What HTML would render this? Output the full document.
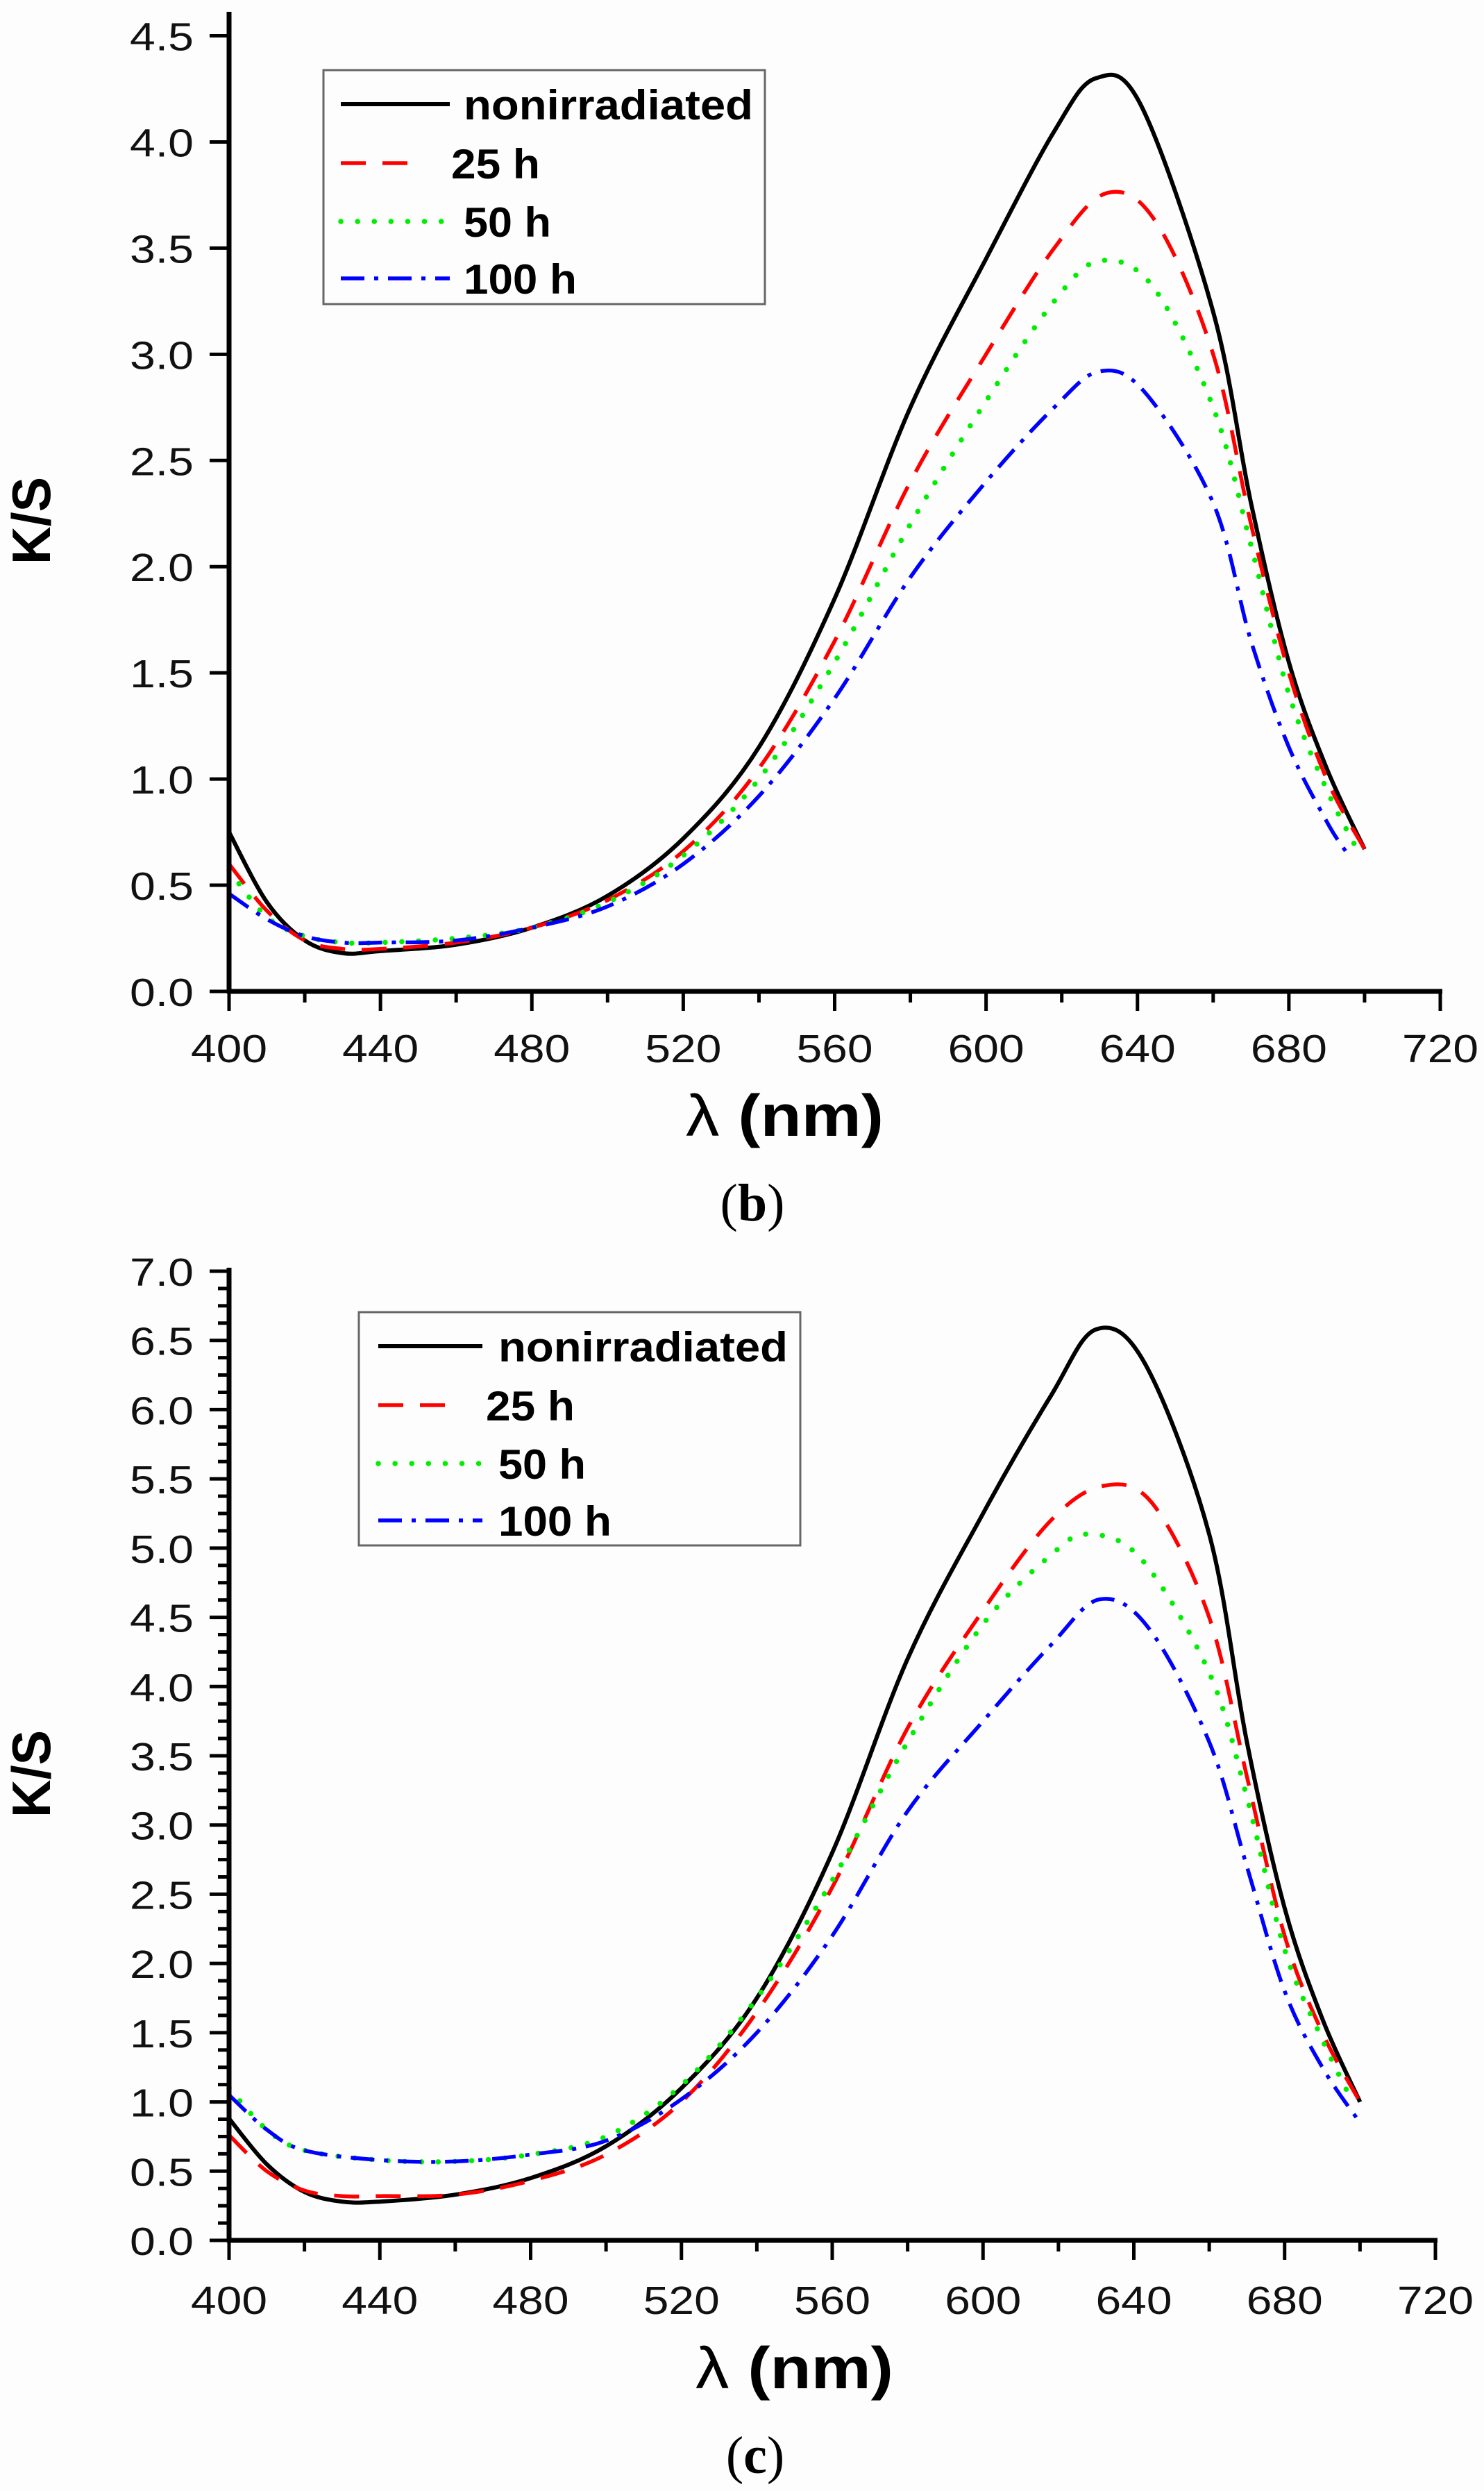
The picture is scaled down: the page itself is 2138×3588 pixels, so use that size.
<!DOCTYPE html>
<html><head><meta charset="utf-8"><style>
html,body{margin:0;padding:0;background:#fdfdfd;}
svg{display:block;}
text{font-family:"Liberation Sans",sans-serif;}
</style></head><body>
<svg id="s" width="2138" height="3588" xmlns="http://www.w3.org/2000/svg"></svg>
<script>
const S=document.getElementById('s');
let h='';
function cr(pts){
  let d='M'+pts[0][0].toFixed(1)+','+pts[0][1].toFixed(1);
  for(let i=0;i<pts.length-1;i++){
    const p0=pts[i-1]||pts[i],p1=pts[i],p2=pts[i+1],p3=pts[i+2]||p2;
    const c1=[p1[0]+(p2[0]-p0[0])/6,p1[1]+(p2[1]-p0[1])/6];
    const c2=[p2[0]-(p3[0]-p1[0])/6,p2[1]-(p3[1]-p1[1])/6];
    d+=' C'+c1.map(v=>v.toFixed(1))+' '+c2.map(v=>v.toFixed(1))+' '+p2.map(v=>v.toFixed(1));
  }
  return d;
}
const styles={
 k:'stroke="#000" stroke-width="6"',
 r:'stroke="#ff0000" stroke-width="5.5" stroke-dasharray="36 24"',
 g:'stroke="#00ee00" stroke-width="7.5" stroke-dasharray="0.1 24" stroke-linecap="round"',
 b:'stroke="#0000ff" stroke-width="5.5" stroke-dasharray="34 14 6 14"'
};
function chart(o){
  const X=nm=>o.x0+(nm-400)*(o.x1-o.x0)/320;
  const Y=v=>o.y0-v*(o.y0-o.yTop)/o.ymax;
  for(const k of ['k','r','g','b']){
    const pts=o.data[k].map(p=>[X(p[0]),Y(p[1])]);
    h+=`<path d="${cr(pts)}" fill="none" ${styles[k]}/>`;
  }
  h+=`<line x1="${o.x0}" y1="${o.axTop}" x2="${o.x0}" y2="${o.y0+3}" stroke="#000" stroke-width="7"/>`;
  h+=`<line x1="${o.x0-3}" y1="${o.y0}" x2="${o.x1+3}" y2="${o.y0}" stroke="#000" stroke-width="7"/>`;
  for(let nm=400;nm<=720;nm+=20){
    const x=X(nm),maj=(nm%40==0);
    h+=`<line x1="${x}" y1="${o.y0}" x2="${x}" y2="${o.y0+(maj?28:16)}" stroke="#000" stroke-width="5"/>`;
    if(maj) h+=`<text x="${x}" y="${o.xlab}" font-size="57" text-anchor="middle" textLength="110" lengthAdjust="spacingAndGlyphs" fill="#111">${nm}</text>`;
  }
  for(let v=0;v<=o.ymax+1e-9;v+=o.minor){
    const y=Y(v),maj=Math.abs(v*2-Math.round(v*2))<1e-6;
    h+=`<line x1="${o.x0}" y1="${y}" x2="${o.x0-(maj?28:16)}" y2="${y}" stroke="#000" stroke-width="5"/>`;
    if(maj) h+=`<text x="279" y="${y+21}" font-size="57" text-anchor="end" textLength="92" lengthAdjust="spacingAndGlyphs" fill="#111">${v.toFixed(1)}</text>`;
  }
  h+=`<text transform="translate(${o.ksx},${o.ksy}) rotate(-90)" font-size="78" font-weight="bold" text-anchor="middle" textLength="126" lengthAdjust="spacingAndGlyphs">K/S</text>`;
  h+=`<text x="${o.lx}" y="${o.ly}" font-size="84" textLength="285" lengthAdjust="spacingAndGlyphs"><tspan>λ</tspan> <tspan font-weight="bold">(nm)</tspan></text>`;
  h+=`<text x="${o.cx}" y="${o.cy}" font-size="76" text-anchor="middle" style="font-family:'Liberation Serif',serif">(<tspan font-weight="bold">${o.cap}</tspan>)</text>`;
  const L=o.leg;
  h+=`<rect x="${L.x}" y="${L.y}" width="${L.w}" height="${L.h}" fill="#fdfdfd" stroke="#666" stroke-width="3"/>`;
  const names=['nonirradiated','25 h','50 h','100 h'],ks=['k','r','g','b'],offs=[49,134,218,300];
  for(let i=0;i<4;i++){
    const y=L.y+offs[i];
    h+=`<line x1="${L.lx0}" y1="${y}" x2="${i==1?L.lx1-40:L.lx1}" y2="${y}" ${styles[ks[i]]}/>`;
    const tl=[417,128,126,163][i];
    h+=`<text x="${i==1?L.tx-18:L.tx}" y="${y+22}" font-size="60" font-weight="bold" textLength="${tl}" lengthAdjust="spacingAndGlyphs">${names[i]}</text>`;
  }
}
chart({x0:330,x1:2075,y0:1428,yTop:51.5,ymax:4.5,axTop:17,minor:0.5,xlab:1530,
 ksx:72,ksy:750,lx:988,ly:1636,cx:1084,cy:1758,cap:'b',
 leg:{x:466,y:101,w:636,h:337,lx0:491,lx1:648,tx:668},
 data:{
 k:[[400,.75],[410,.42],[420,.24],[430,.18],[440,.19],[460,.22],[480,.3],[500,.45],[520,.72],[540,1.15],[560,1.85],[580,2.75],[600,3.45],[618,4.05],[629,4.3],[641,4.17],[660,3.2],[670,2.3],[680,1.55],[690,1.05],[700,.67]],
 r:[[400,.6],[410,.38],[420,.24],[430,.2],[440,.2],[460,.23],[480,.3],[500,.43],[520,.66],[540,1.05],[560,1.65],[580,2.4],[600,3.0],[618,3.5],[632,3.76],[645,3.62],[660,3.0],[670,2.2],[680,1.5],[690,1.0],[700,.67]],
 g:[[400,.57],[410,.35],[420,.26],[430,.23],[440,.23],[460,.25],[480,.3],[500,.42],[520,.64],[540,1.0],[560,1.55],[580,2.2],[600,2.78],[618,3.25],[630,3.44],[644,3.32],[660,2.75],[670,2.1],[680,1.4],[690,.95],[698,.67]],
 b:[[400,.46],[410,.34],[420,.26],[430,.23],[440,.23],[460,.24],[480,.3],[500,.4],[520,.6],[540,.92],[560,1.38],[580,1.95],[600,2.4],[618,2.75],[630,2.92],[642,2.82],[660,2.3],[670,1.65],[680,1.15],[690,.8],[695,.66]]
 }});
chart({x0:330,x1:2068,y0:3227,yTop:1831,ymax:7.0,axTop:1826,minor:0.125,xlab:3333,
 ksx:72,ksy:2555,lx:1002,ly:3440,cx:1088,cy:3562,cap:'c',
 leg:{x:517,y:1890,w:636,h:336,lx0:545,lx1:695,tx:718},
 data:{
 k:[[400,.88],[410,.55],[420,.35],[430,.28],[440,.28],[460,.33],[480,.45],[500,.68],[520,1.1],[540,1.75],[560,2.8],[580,4.2],[600,5.25],[618,6.1],[630,6.58],[643,6.33],[660,5.1],[670,3.6],[680,2.4],[690,1.6],[700,1.0]],
 r:[[400,.76],[410,.5],[420,.36],[430,.32],[440,.32],[460,.33],[480,.43],[500,.62],[520,1.0],[540,1.65],[560,2.55],[580,3.7],[600,4.55],[618,5.2],[632,5.45],[645,5.32],[660,4.5],[670,3.35],[680,2.2],[690,1.5],[700,1.0]],
 g:[[400,1.1],[410,.8],[420,.65],[440,.58],[460,.57],[480,.62],[500,.75],[520,1.12],[540,1.75],[560,2.6],[580,3.6],[600,4.45],[618,4.95],[628,5.1],[642,4.92],[660,4.1],[670,3.2],[680,2.1],[690,1.45],[698,1.0]],
 b:[[400,1.05],[410,.8],[420,.65],[440,.58],[460,.57],[480,.62],[500,.72],[520,1.02],[540,1.5],[560,2.2],[580,3.1],[600,3.75],[618,4.3],[631,4.63],[644,4.42],[660,3.6],[670,2.7],[680,1.8],[690,1.25],[700,.85]]
 }});
S.innerHTML=h;
</script>
</body></html>
